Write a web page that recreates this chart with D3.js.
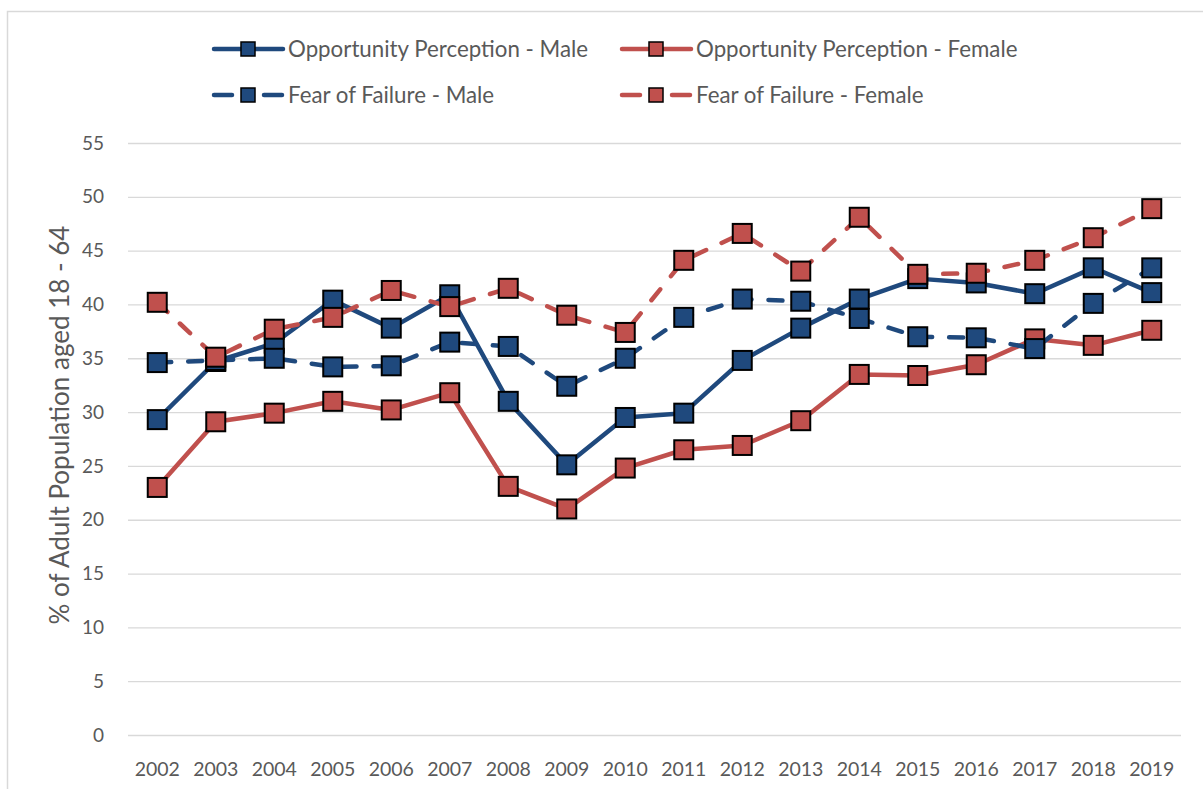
<!DOCTYPE html>
<html>
<head>
<meta charset="utf-8">
<script src="https://cdn.jsdelivr.net/npm/d3@7"></script>
<style>
  body { margin: 0; background: #fff; }
  text { font-family: Lato, "Open Sans", sans-serif; fill: #595959; }
</style>
</head>
<body>
<script>
// data
const years = ['2002','2003','2004','2005','2006','2007','2008','2009','2010','2011','2012','2013','2014','2015','2016','2017','2018','2019']
const oppMale   = [29.3, 34.7, 36.4, 40.4, 37.8, 40.9, 31.0, 25.1, 29.5, 29.9, 34.8, 37.8, 40.5, 42.4, 42.0, 41.0, 43.4, 41.1]
const oppFemale = [23.0, 29.1, 29.9, 31.0, 30.2, 31.8, 23.1, 21.0, 24.8, 26.5, 26.9, 29.2, 33.5, 33.4, 34.4, 36.8, 36.2, 37.6]
const fearMale   = [34.6, 34.8, 35.0, 34.2, 34.3, 36.5, 36.1, 32.4, 35.0, 38.8, 40.5, 40.3, 38.7, 37.0, 36.9, 35.9, 40.1, 43.4]
const fearFemale = [40.2, 35.1, 37.7, 38.8, 41.3, 39.8, 41.5, 39.0, 37.4, 44.1, 46.6, 43.1, 48.1, 42.8, 42.9, 44.1, 46.2, 48.9]
const yTicks = [0, 5, 10, 15, 20, 25, 30, 35, 40, 45, 50, 55]

const BLUE = '#1F497D'
const RED = '#C0504D'

const series = [
  {name: 'Opportunity Perception - Male', values: oppMale, color: BLUE, dash: null},
  {name: 'Opportunity Perception - Female', values: oppFemale, color: RED, dash: null},
  {name: 'Fear of Failure - Male', values: fearMale, color: BLUE, dash: '14,17'},
  {name: 'Fear of Failure - Female', values: fearFemale, color: RED, dash: '14,17'}
]

const W = 1203, H = 789
const plot = {l: 128, r: 1181, t: 143, b: 735}

const svg = d3.select('body').append('svg')
  .attr('width', W)
  .attr('height', H)

// chart border
svg.append('rect')
  .attr('x', 7.5).attr('y', 11.5)
  .attr('width', W).attr('height', H)
  .attr('fill', 'none')
  .attr('stroke', '#d9d9d9')
  .attr('stroke-width', 1.5)

const x = d3.scaleBand().domain(years).range([plot.l, plot.r])
const y = d3.scaleLinear().domain([0, 55]).range([plot.b, plot.t])

// y axis + gridlines
const yAxis = svg.append('g')
  .attr('transform', `translate(${plot.l},0)`)
  .call(d3.axisLeft(y).tickValues(yTicks).tickSize(-(plot.r - plot.l)).tickPadding(24))
yAxis.select('.domain').remove()
yAxis.selectAll('line').attr('stroke', '#d9d9d9').attr('stroke-width', 1.3)
yAxis.selectAll('text').style('font-size', '19px').attr('fill', '#595959')

// x axis
const xAxis = svg.append('g')
  .attr('transform', `translate(0,${plot.b})`)
  .call(d3.axisBottom(x).tickSize(0).tickPadding(27))
xAxis.select('.domain').remove()
xAxis.selectAll('text').style('font-size', '19.5px').attr('fill', '#595959')

// y title
svg.append('text')
  .attr('transform', 'translate(69,425) rotate(-90)')
  .attr('text-anchor', 'middle')
  .style('font-size', '26px')
  .text('% of Adult Population aged 18 - 64')

const line = d3.line()
  .x((d, i) => x(years[i]) + x.bandwidth() / 2)
  .y(d => y(d))

const MS = 19 // marker size

series.forEach(s => {
  const g = svg.append('g')
  g.append('path')
    .datum(s.values)
    .attr('d', line)
    .attr('fill', 'none')
    .attr('stroke', s.color)
    .attr('stroke-width', 4.5)
    .attr('stroke-linejoin', 'round')
    .attr('stroke-linecap', 'round')
    .attr('stroke-dasharray', s.dash)
  g.selectAll('rect')
    .data(s.values)
    .join('rect')
      .attr('x', (d, i) => x(years[i]) + x.bandwidth() / 2 - MS / 2)
      .attr('y', d => y(d) - MS / 2)
      .attr('width', MS)
      .attr('height', MS)
      .attr('fill', s.color)
      .attr('stroke', '#000')
      .attr('stroke-width', 2)
})

// legend
const legendPos = [
  {x: 212, y: 49}, {x: 620, y: 49},
  {x: 212, y: 95}, {x: 620, y: 95}
]
series.forEach((s, i) => {
  const p = legendPos[i]
  const g = svg.append('g').attr('transform', `translate(${p.x},${p.y})`)
  if (s.dash) {
    g.append('line').attr('x1', 2).attr('x2', 20).attr('stroke', s.color)
      .attr('stroke-width', 4.5).attr('stroke-linecap', 'round')
    g.append('line').attr('x1', 52).attr('x2', 70).attr('stroke', s.color)
      .attr('stroke-width', 4.5).attr('stroke-linecap', 'round')
  } else {
    g.append('line').attr('x1', 2).attr('x2', 71).attr('stroke', s.color)
      .attr('stroke-width', 4.5).attr('stroke-linecap', 'round')
  }
  g.append('rect')
    .attr('x', 36 - 7).attr('y', -7)
    .attr('width', 14).attr('height', 14)
    .attr('fill', s.color)
    .attr('stroke', '#000')
    .attr('stroke-width', 1.5)
  g.append('text')
    .attr('x', 76)
    .attr('dy', '0.35em')
    .style('font-size', '22.3px')
    .text(s.name)
})
</script>
</body>
</html>
